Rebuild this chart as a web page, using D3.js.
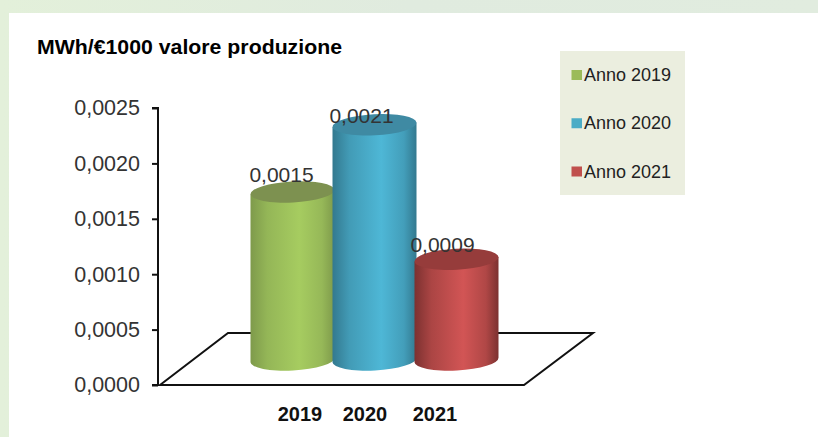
<!DOCTYPE html>
<html>
<head>
<meta charset="utf-8">
<script src="https://cdnjs.cloudflare.com/ajax/libs/d3/7.8.5/d3.min.js"></script>
<style>
  html, body { margin: 0; padding: 0; background: #fff; }
  svg { display: block; font-family: "Liberation Sans", Arial, sans-serif; }
</style>
</head>
<body>
<svg id="chart" width="818" height="437"></svg>
<script>
// Energy intensity per year
const years = ["2019", "2020", "2021"];
const values = [0.0015, 0.0021, 0.0009];
const valueLabels = ["0,0015", "0,0021", "0,0009"];
const legendLabels = ["Anno 2019", "Anno 2020", "Anno 2021"];
const tickValues = [0, 0.0005, 0.001, 0.0015, 0.002, 0.0025];
const chartTitle = "MWh/€1000 valore produzione";

const swatchColors = ["#9bbb59", "#4bacc6", "#c0504d"];
const capColors = ["#7d9150", "#3f8aa3", "#963c3b"];
const edgeDark = ["#7e9a4b", "#33798f", "#7c3130"];
const centerLight = ["#a6cc60", "#4eb7d6", "#d25555"];

const svg = d3.select("#chart");
const defs = svg.append("defs");

// Page backdrop with the white panel on top
const backdrop = defs.append("linearGradient").attr("id", "backdrop");
backdrop.append("stop").attr("offset", "0%").attr("stop-color", "#e3f0da");
backdrop.append("stop").attr("offset", "50%").attr("stop-color", "#e0ebdf");
backdrop.append("stop").attr("offset", "100%").attr("stop-color", "#e1ecdf");
svg.append("rect").attr("width", 818).attr("height", 437).attr("fill", "url(#backdrop)");
svg.append("rect").attr("x", 9).attr("y", 13).attr("width", 809).attr("height", 424).attr("fill", "#fff");

svg.append("text")
  .attr("x", 37).attr("y", 54)
  .attr("font-size", 20).attr("font-weight", "bold").attr("fill", "#000")
  .attr("textLength", 305).attr("lengthAdjust", "spacingAndGlyphs")
  .text(chartTitle);

// Axis scale and the slightly larger scale the cylinders stand on in perspective
const axisScale = d3.scaleLinear().domain([0, 0.0025]).range([385, 108]);
const heightScale = d3.scaleLinear().domain([0, 0.0025]).range([360, 80]);
const xBand = d3.scaleBand().domain(years).range([251.5, 497.5]);
const labelX = d3.scaleOrdinal().domain(years).range([300, 365, 435]);

// Floor of the 3D plot
const floor = d3.line();
svg.append("path")
  .attr("d", floor([[160, 385], [228, 333], [593, 333], [524, 385]]) + "Z")
  .attr("fill", "#fff").attr("stroke", "#111").attr("stroke-width", 2);

const yAxis = d3.axisLeft(axisScale)
  .tickValues(tickValues)
  .tickSize(6)
  .tickPadding(12)
  .tickFormat(d => d3.format(".4f")(d).replace(".", ","));
const axisG = svg.append("g").attr("transform", "translate(158,0)").call(yAxis);
axisG.selectAll("path, line").attr("stroke", "#111").attr("stroke-width", 2);
axisG.select(".domain").attr("d", "M-6,108H0V385H-6");
axisG.selectAll("text").attr("font-size", 21.5).attr("fill", "#333")
  .attr("font-family", "'Liberation Sans', Arial, sans-serif");

// Shaded cylinders, drawn left to right so each one overlaps its neighbour
const halfWidth = 42;
const ry = 10.5;
const tilt = -3;
years.forEach((year, i) => {
  const grad = defs.append("linearGradient").attr("id", "side" + i);
  [[0, edgeDark[i]], [0.2, d3.interpolateRgb(edgeDark[i], centerLight[i])(0.55)],
   [0.58, centerLight[i]], [0.85, d3.interpolateRgb(edgeDark[i], centerLight[i])(0.6)],
   [1, edgeDark[i]]].forEach(([o, c]) => {
    grad.append("stop").attr("offset", o).attr("stop-color", c);
  });

  const cx = xBand(year) + xBand.bandwidth() / 2;
  const base = heightScale(0);
  const top = heightScale(values[i]);
  const lean = Math.tan(tilt * Math.PI / 180) * halfWidth;
  const l = cx - halfWidth, r = cx + halfWidth;

  const g = svg.append("g");
  g.append("path")
    .attr("d", `M${l},${top - lean} L${l},${base - lean} A${halfWidth},${ry} ${tilt} 0 0 ${r},${base + lean} L${r},${top + lean} Z`)
    .attr("fill", `url(#side${i})`);
  g.append("ellipse")
    .attr("cx", cx).attr("cy", top).attr("rx", halfWidth).attr("ry", ry)
    .attr("transform", `rotate(${tilt} ${cx} ${top})`)
    .attr("fill", capColors[i]);
});

// Value labels sit across the top edge of each cylinder
const labelDx = [-11, -13, -14];
const labelDy = [-10, -2, -7];
svg.append("g").selectAll("text").data(years).join("text")
  .attr("x", (d, i) => xBand(d) + xBand.bandwidth() / 2 + labelDx[i])
  .attr("y", (d, i) => heightScale(values[i]) + labelDy[i])
  .attr("text-anchor", "middle")
  .attr("font-size", 21).attr("fill", "#333")
  .text((d, i) => valueLabels[i]);

svg.append("g").selectAll("text").data(years).join("text")
  .attr("x", d => labelX(d)).attr("y", 421)
  .attr("text-anchor", "middle")
  .attr("font-size", 20).attr("font-weight", "bold").attr("fill", "#111")
  .text(d => d);

// Legend
const legendY = d3.scalePoint().domain(legendLabels).range([75, 171.5]);
svg.append("rect").attr("x", 560).attr("y", 51).attr("width", 125).attr("height", 144).attr("fill", "#ebeedf");
const items = svg.append("g").selectAll("g").data(legendLabels).join("g")
  .attr("transform", d => `translate(571.5,${legendY(d)})`);
items.append("rect").attr("y", -5).attr("width", 10.5).attr("height", 10)
  .attr("fill", (d, i) => swatchColors[i]);
items.append("text").attr("x", 12.5).attr("y", 6)
  .attr("font-size", 18).attr("fill", "#222")
  .text(d => d);
</script>
</body>
</html>
